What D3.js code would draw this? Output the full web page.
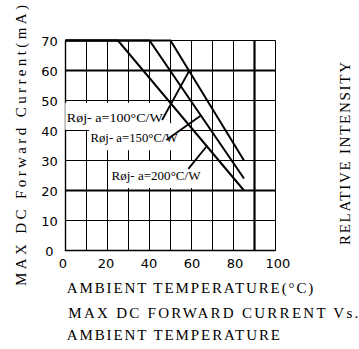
<!DOCTYPE html>
<html>
<head>
<meta charset="utf-8">
<script src="https://cdn.jsdelivr.net/npm/d3@7"></script>
<style>
  body { margin: 0; background: #fff; }
  svg { display: block; }
</style>
</head>
<body>
<svg id="chart" width="359" height="349"></svg>
<script>
// x axis (ambient temperature) and y axis (current) tick values
let xTicks = [0, 20, 40, 60, 80, 100];
let yTicks = [0, 10, 20, 30, 40, 50, 60, 70];

// derating curves, one per thermal resistance
let seriesNames = ["Røj- a=100°C/W", "Røj- a=150°C/W", "Røj- a=200°C/W"];
let curve100 = [{x: 0, y: 70}, {x: 50, y: 70}, {x: 85, y: 30}];
let curve150 = [{x: 0, y: 70}, {x: 40, y: 70}, {x: 85, y: 24}];
let curve200 = [{x: 0, y: 70}, {x: 25, y: 70}, {x: 85, y: 20}];

// heavy reference lines on the grid
let refY = [60, 20];
let refX = [90];

let svg = d3.select("#chart");

let xScale = d3.scaleLinear().domain([0, 100]).range([65.5, 275.5]);
let yScale = d3.scaleLinear().domain([0, 70]).range([250.5, 40.5]);

let g = svg.append("g");

// thin grid every 10 units
g.selectAll(".vgrid")
    .data(d3.range(0, 101, 10))
    .enter()
    .append("line")
    .attr("x1", d => xScale(d)).attr("x2", d => xScale(d))
    .attr("y1", yScale(0)).attr("y2", yScale(70))
    .attr("stroke", "#000").attr("stroke-width", 1);

g.selectAll(".hgrid")
    .data(d3.range(0, 71, 10))
    .enter()
    .append("line")
    .attr("y1", d => yScale(d)).attr("y2", d => yScale(d))
    .attr("x1", xScale(0)).attr("x2", xScale(100))
    .attr("stroke", "#000").attr("stroke-width", 1);

// left and bottom border a little heavier
g.append("line")
    .attr("x1", xScale(0)).attr("x2", xScale(0))
    .attr("y1", yScale(0) + 0.7).attr("y2", yScale(70))
    .attr("stroke", "#000").attr("stroke-width", 1.4);
g.append("line")
    .attr("x1", xScale(0)).attr("x2", xScale(100))
    .attr("y1", yScale(0)).attr("y2", yScale(0))
    .attr("stroke", "#000").attr("stroke-width", 1.4);

g.selectAll(".refy")
    .data(refY)
    .enter()
    .append("line")
    .attr("y1", d => yScale(d)).attr("y2", d => yScale(d))
    .attr("x1", xScale(0)).attr("x2", xScale(100))
    .attr("stroke", "#000").attr("stroke-width", 2.2);

g.selectAll(".refx")
    .data(refX)
    .enter()
    .append("line")
    .attr("x1", d => xScale(d)).attr("x2", d => xScale(d))
    .attr("y1", yScale(0)).attr("y2", yScale(70))
    .attr("stroke", "#000").attr("stroke-width", 2.2);

// labels with white boxes, placed in data units
let labelPos = [
    {x: 0.6, y: 42.9, len: 96, tip: [[46, 43.5], [59, 60]]},
    {x: 11.9, y: 36.1, len: 87, tip: [[48, 36.8], [64.5, 45]]},
    {x: 21.9, y: 23.5, len: 89, tip: [[58.5, 27.2], [67.5, 35]]}
];

labelPos.forEach(function(p, i) {
    let t = g.append("text")
        .attr("x", xScale(p.x))
        .attr("y", yScale(p.y))
        .attr("font-family", "Liberation Serif")
        .attr("font-size", 12)
        .attr("textLength", p.len)
        .attr("lengthAdjust", "spacingAndGlyphs")
        .text(seriesNames[i]);
    let b = t.node().getBBox();
    g.insert("rect", "text")
        .attr("x", b.x - 1.5)
        .attr("y", yScale(p.y) - 19)
        .attr("width", b.width + 3)
        .attr("height", 27)
        .attr("fill", "#fff");
});

let line = d3.line().x(d => xScale(d.x)).y(d => yScale(d.y));

g.selectAll(".curve")
    .data([curve100, curve150, curve200])
    .enter()
    .append("path")
    .attr("d", line)
    .attr("fill", "none")
    .attr("stroke", "#000")
    .attr("stroke-width", 2);

// pointer lines from label to curve
g.selectAll(".tip")
    .data(labelPos)
    .enter()
    .append("line")
    .attr("x1", d => xScale(d.tip[0][0])).attr("y1", d => yScale(d.tip[0][1]))
    .attr("x2", d => xScale(d.tip[1][0])).attr("y2", d => yScale(d.tip[1][1]))
    .attr("stroke", "#000").attr("stroke-width", 1.8);

// tick labels
g.selectAll(".ylab")
    .data(yTicks)
    .enter()
    .append("text")
    .attr("x", 49.5)
    .attr("y", d => yScale(d) + 5)
    .attr("text-anchor", "middle")
    .attr("font-family", "DejaVu Sans")
    .attr("font-size", 13)
    .text(d => d);

g.selectAll(".xlab")
    .data(xTicks)
    .enter()
    .append("text")
    .attr("x", d => xScale(d) - 2.5 + d * 0.05)
    .attr("y", 267.5)
    .attr("text-anchor", "middle")
    .attr("font-family", "DejaVu Sans")
    .attr("font-size", 13)
    .text(d => d);

// titles
function title(txt, x, y, len, rot) {
    let t = svg.append("text")
        .attr("font-family", "Liberation Serif")
        .attr("font-size", 15)
        .attr("textLength", len)
        .attr("lengthAdjust", "spacing")
        .text(txt);
    if (rot) t.attr("transform", "translate(" + x + "," + y + ") rotate(-90)");
    else t.attr("x", x).attr("y", y);
}

title("MAX DC Forward Current(mA)", 26, 286, 281, true);
title("AMBIENT TEMPERATURE(°C)", 66.7, 293.3, 246.6, false);
title("MAX DC FORWARD CURRENT Vs.", 68.3, 318.3, 290, false);
title("AMBIENT TEMPERATURE", 66.7, 340, 213.3, false);
title("RELATIVE INTENSITY", 350, 245, 183, true);
</script>
</body>
</html>
